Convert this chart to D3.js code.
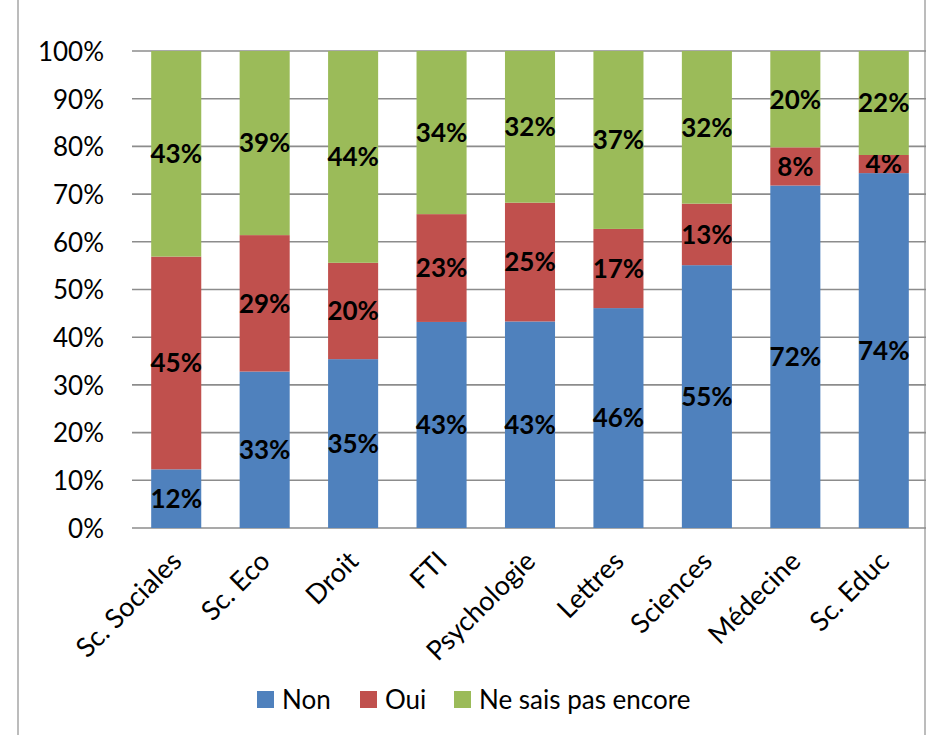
<!DOCTYPE html>
<html>
<head>
<meta charset="utf-8">
<script src="https://cdn.jsdelivr.net/npm/d3@7"></script>
<style>
  body { margin: 0; background: #fff; }
  svg { display: block; }
</style>
</head>
<body>
<div id="chart"></div>
<script>
// categories and series (percent of each faculty)
var categories = ["Sc. Sociales", "Sc. Eco", "Droit", "FTI", "Psychologie", "Lettres", "Sciences", "Médecine", "Sc. Educ"];
var seriesNames = ["Non", "Oui", "Ne sais pas encore"];
var nonValues = [12.3, 32.8, 35.4, 43.2, 43.3, 46.1, 55.1, 71.8, 74.4];
var ouiValues = [44.6, 28.6, 20.2, 22.6, 24.9, 16.6, 12.9, 8.0, 3.8];
var nspValues = [43.1, 38.6, 44.4, 34.2, 31.8, 37.3, 32.0, 20.2, 21.8];
var yTicks = [0, 10, 20, 30, 40, 50, 60, 70, 80, 90, 100];

var colors = ["#4F81BD", "#C0504D", "#9BBB59"];
var fontFamily = "Lato, 'Open Sans', sans-serif";

var width = 926, height = 735;

var svg = d3.select("#chart").append("svg")
  .attr("width", width)
  .attr("height", height);

// outer chart frame
svg.append("rect")
  .attr("x", 18).attr("y", -2)
  .attr("width", 907).attr("height", height + 4)
  .attr("fill", "none")
  .attr("stroke", "#a6a6a6")
  .attr("stroke-width", 1.5);

var x = d3.scaleBand()
  .domain(categories)
  .range([132, 928])
  .paddingInner(0.434)
  .paddingOuter(0.217);

var y = d3.scaleLinear()
  .domain([0, 100])
  .range([528, 51]);

// build rows for the stack
var rows = categories.map(function(c, i){
  return { cat: c, "Non": nonValues[i], "Oui": ouiValues[i], "Ne sais pas encore": nspValues[i] };
});
var stacked = d3.stack().keys(seriesNames)(rows);

// gridlines
svg.append("g").selectAll("line")
  .data(yTicks)
  .enter().append("line")
  .attr("x1", 132).attr("x2", 928)
  .attr("y1", function(d){ return y(d); })
  .attr("y2", function(d){ return y(d); })
  .attr("stroke", "#8c8c8c")
  .attr("stroke-width", 1.6);

// y axis labels
var yAxis = svg.append("g")
  .attr("transform", "translate(104,0)")
  .call(d3.axisLeft(y).tickValues(yTicks).tickSize(0).tickPadding(0)
    .tickFormat(function(d){ return d + "%"; }));
yAxis.select(".domain").remove();
yAxis.selectAll("text")
  .attr("font-family", fontFamily)
  .attr("font-size", 26)
  .attr("fill", "#000")
  .attr("dy", "0.36em");

// bars
var layers = svg.append("g").selectAll("g")
  .data(stacked)
  .enter().append("g")
  .attr("fill", function(d, i){ return colors[i]; });

layers.selectAll("rect")
  .data(function(d){ return d; })
  .enter().append("rect")
  .attr("x", function(d){ return x(d.data.cat); })
  .attr("y", function(d){ return y(d[1]); })
  .attr("width", x.bandwidth())
  .attr("height", function(d){ return y(d[0]) - y(d[1]); });

// value labels
layers.selectAll("text")
  .data(function(d){ return d; })
  .enter().append("text")
  .attr("x", function(d){ return x(d.data.cat) + x.bandwidth() / 2; })
  .attr("y", function(d){ return (y(d[0]) + y(d[1])) / 2; })
  .attr("dy", "0.36em")
  .attr("text-anchor", "middle")
  .attr("font-family", fontFamily)
  .attr("font-weight", "bold")
  .attr("font-size", 26)
  .attr("fill", "#000")
  .text(function(d){ return Math.round(d[1] - d[0]) + "%"; });

// x labels, rotated
svg.append("g").selectAll("text")
  .data(categories)
  .enter().append("text")
  .attr("transform", function(d){
    return "translate(" + (x(d) + x.bandwidth() / 2 + 7) + ",563) rotate(-45)";
  })
  .attr("text-anchor", "end")
  .attr("font-family", fontFamily)
  .attr("font-size", 27)
  .attr("fill", "#000")
  .text(function(d){ return d; });

// legend
var legendX = [257, 360, 454];
var legend = svg.append("g").selectAll("g")
  .data(seriesNames)
  .enter().append("g")
  .attr("transform", function(d, i){ return "translate(" + legendX[i] + ",691)"; });
legend.append("rect")
  .attr("width", 17).attr("height", 17)
  .attr("fill", function(d, i){ return colors[i]; });
legend.append("text")
  .attr("x", 25).attr("y", 8.5)
  .attr("dy", "0.36em")
  .attr("font-family", fontFamily)
  .attr("font-size", 26)
  .attr("fill", "#000")
  .text(function(d){ return d; });
</script>
</body>
</html>
